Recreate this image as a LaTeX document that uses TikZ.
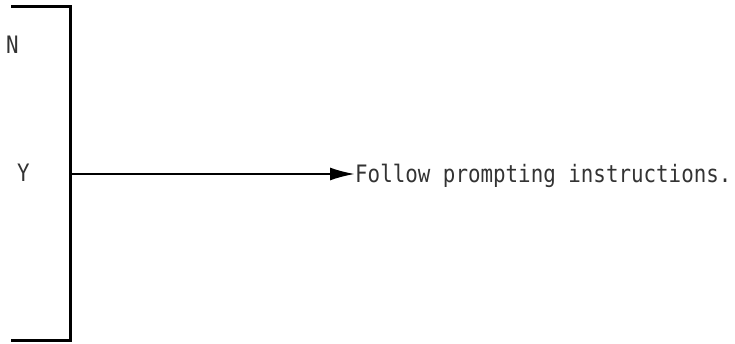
\documentclass[tikz,border=0pt]{standalone}
\usepackage{fontspec}
\newfontfamily\monofont[FakeStretch=0.868]{DejaVu Sans Mono}
\usetikzlibrary{arrows.meta}
\tikzset{
  lbl/.style={font=\monofont\fontsize{24}{24}\selectfont, inner sep=0pt, text=black!80},
  bracket/.style={line width=3pt},
  conn/.style={line width=2.2pt, -{Latex[length=25pt,width=13pt]}}
}
\begin{document}
\begin{tikzpicture}[x=1pt,y=-1pt]
\useasboundingbox (0,0) rectangle (735,344);
\coordinate (tl) at (11,7);
\coordinate (tr) at (70,7);
\coordinate (br) at (70,340);
\coordinate (bl) at (11,340);
\draw[bracket] (tl) -- (tr) -- (br) -- (bl);
\coordinate (start) at (70,174);
\node[lbl, anchor=base west] (N) at (6,54) {N};
\node[lbl, anchor=base west] (Y) at (17,182) {Y};
\node[lbl, anchor=base west] (txt) at (355,183) {Follow prompting instructions.};
\draw[conn] (start) -- (txt.west |- start);
\end{tikzpicture}
\end{document}
